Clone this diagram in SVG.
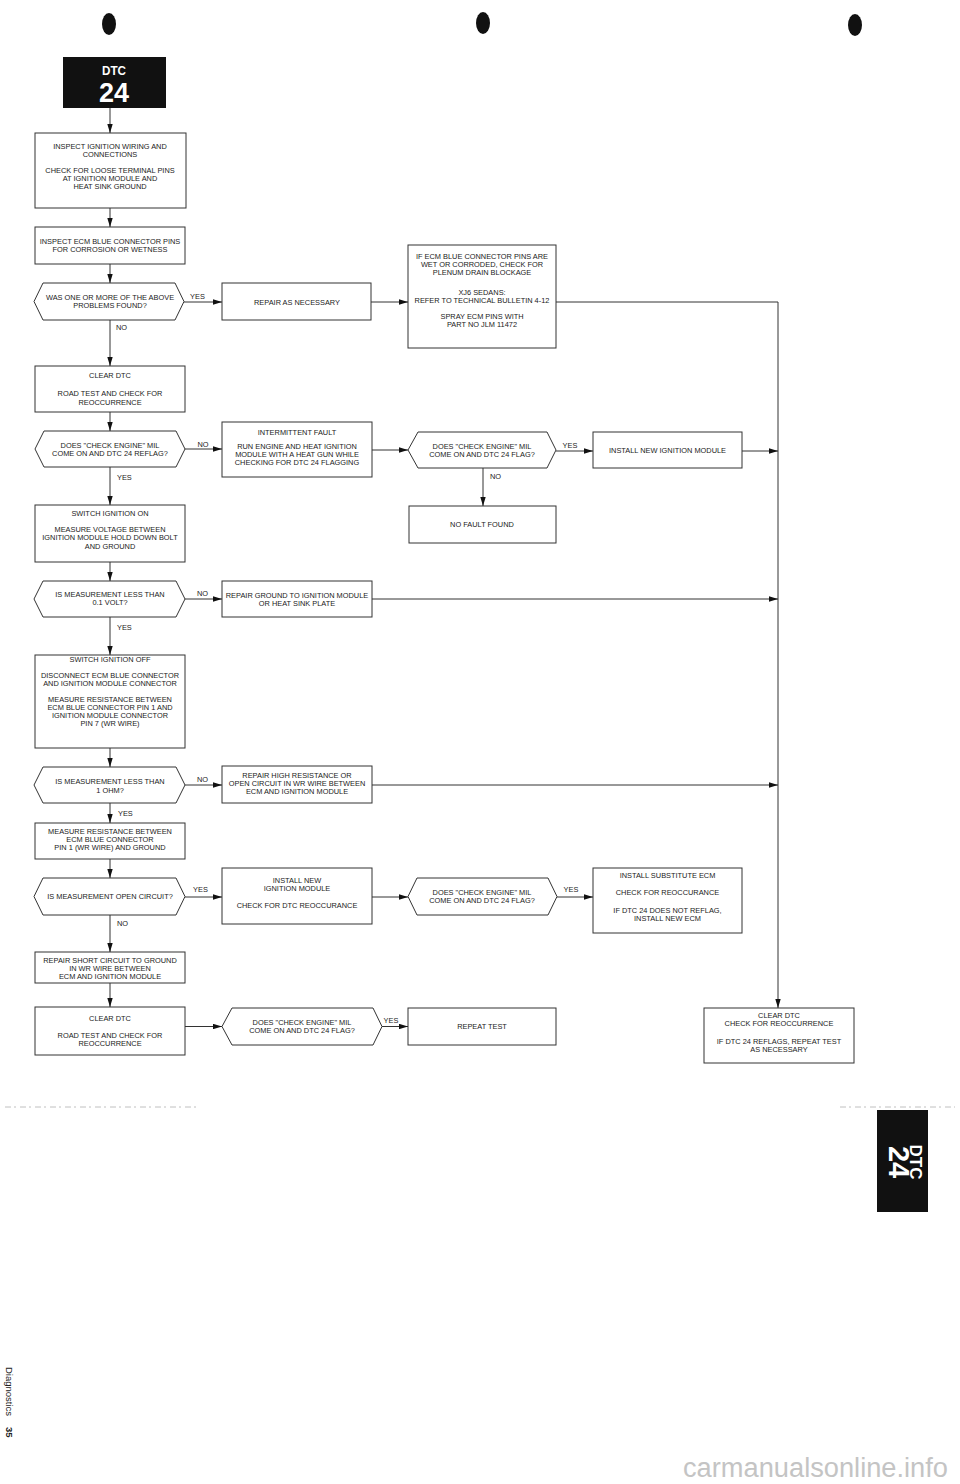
<svg xmlns="http://www.w3.org/2000/svg" width="960" height="1484" viewBox="0 0 960 1484">
<style>
.box{fill:#fff;stroke:#333;stroke-width:1}
.t{font-family:"Liberation Sans",Arial,sans-serif;font-size:7.4px;fill:#1a1a1a;text-anchor:middle}
.lbl{font-family:"Liberation Sans",Arial,sans-serif;font-size:7.4px;fill:#1a1a1a;text-anchor:middle}
.lv{font-family:"Liberation Sans",Arial,sans-serif;font-size:7.4px;fill:#1a1a1a;text-anchor:start}
.c{fill:none;stroke:#333;stroke-width:1}
.a{marker-end:url(#arr)}
</style>
<defs>
<marker id="arr" viewBox="0 0 10 6" refX="10" refY="3" markerWidth="9" markerHeight="5.4" markerUnits="userSpaceOnUse" orient="auto">
<path d="M0,0 L10,3 L0,6 Z" fill="#111"/>
</marker>
</defs>
<rect width="960" height="1484" fill="#fff"/>

<!-- punch holes -->
<g id="holes" fill="#111">
<ellipse cx="109" cy="24" rx="7" ry="11"/>
<ellipse cx="483" cy="23" rx="7" ry="11"/>
<ellipse cx="855" cy="25" rx="7" ry="11"/>
</g>

<!-- header tab -->
<g id="dtc-header">
<rect x="63" y="57" width="103" height="51" fill="#111"/>
<text x="114" y="74.5" font-family="Liberation Sans,Arial,sans-serif" font-weight="bold" font-size="13" fill="#fff" text-anchor="middle" textLength="24" lengthAdjust="spacingAndGlyphs">DTC</text>
<text x="114" y="102" font-family="Liberation Sans,Arial,sans-serif" font-weight="bold" font-size="27" fill="#fff" text-anchor="middle">24</text>
</g>

<g id="n1"><rect class="box" x="35" y="133" width="151" height="75"/>
<text class="t" x="110" y="148.7">INSPECT IGNITION WIRING AND</text>
<text class="t" x="110" y="156.7">CONNECTIONS</text>
<text class="t" x="110" y="172.7">CHECK FOR LOOSE TERMINAL PINS</text>
<text class="t" x="110" y="180.7">AT IGNITION MODULE AND</text>
<text class="t" x="110" y="189.2">HEAT SINK GROUND</text></g>

<g id="n2"><rect class="box" x="35" y="227" width="150" height="37"/>
<text class="t" x="110" y="244.2">INSPECT ECM BLUE CONNECTOR PINS</text>
<text class="t" x="110" y="252.2">FOR CORROSION OR WETNESS</text></g>

<g id="d1"><path class="box" d="M34,301.5 L43,283 L175,283 L184,301.5 L175,320 L43,320 Z"/>
<text class="t" x="110" y="299.7">WAS ONE OR MORE OF THE ABOVE</text>
<text class="t" x="110" y="307.7">PROBLEMS FOUND?</text></g>

<g id="n3"><rect class="box" x="222" y="283" width="149" height="37"/>
<text class="t" x="297" y="304.7">REPAIR AS NECESSARY</text></g>

<g id="n4"><rect class="box" x="408" y="245" width="148" height="103"/>
<text class="t" x="482" y="258.7">IF ECM BLUE CONNECTOR PINS ARE</text>
<text class="t" x="482" y="266.7">WET OR CORRODED, CHECK FOR</text>
<text class="t" x="482" y="274.7">PLENUM DRAIN BLOCKAGE</text>
<text class="t" x="482" y="294.7">XJ6 SEDANS:</text>
<text class="t" x="482" y="302.7">REFER TO TECHNICAL BULLETIN 4-12</text>
<text class="t" x="482" y="318.7">SPRAY ECM PINS WITH</text>
<text class="t" x="482" y="326.7">PART NO JLM 11472</text></g>

<g id="n5"><rect class="box" x="35" y="366" width="150" height="46"/>
<text class="t" x="110" y="377.7">CLEAR DTC</text>
<text class="t" x="110" y="395.7">ROAD TEST AND CHECK FOR</text>
<text class="t" x="110" y="404.7">REOCCURRENCE</text></g>

<g id="d2"><path class="box" d="M35,449 L44,431 L176,431 L185,449 L176,467 L44,467 Z"/>
<text class="t" x="110" y="447.7">DOES "CHECK ENGINE" MIL</text>
<text class="t" x="110" y="455.7">COME ON AND DTC 24 REFLAG?</text></g>

<g id="n6"><rect class="box" x="222" y="422" width="150" height="55"/>
<text class="t" x="297" y="434.7">INTERMITTENT FAULT</text>
<text class="t" x="297" y="448.7">RUN ENGINE AND HEAT IGNITION</text>
<text class="t" x="297" y="456.7">MODULE WITH A HEAT GUN WHILE</text>
<text class="t" x="297" y="465.2">CHECKING FOR DTC 24 FLAGGING</text></g>

<g id="d3"><path class="box" d="M408,450 L418,432 L547,432 L556,450 L547,468 L418,468 Z"/>
<text class="t" x="482" y="449.2">DOES "CHECK ENGINE" MIL</text>
<text class="t" x="482" y="456.7">COME ON AND DTC 24 FLAG?</text></g>

<g id="n7"><rect class="box" x="593" y="432" width="149" height="36"/>
<text class="t" x="667.5" y="453.2">INSTALL NEW IGNITION MODULE</text></g>

<g id="n8"><rect class="box" x="409" y="506" width="147" height="37"/>
<text class="t" x="482" y="527.2">NO FAULT FOUND</text></g>

<g id="n9"><rect class="box" x="35" y="505" width="150" height="57"/>
<text class="t" x="110" y="515.7">SWITCH IGNITION ON</text>
<text class="t" x="110" y="531.7">MEASURE VOLTAGE BETWEEN</text>
<text class="t" x="110" y="540.2">IGNITION MODULE HOLD DOWN BOLT</text>
<text class="t" x="110" y="548.7">AND GROUND</text></g>

<g id="d4"><path class="box" d="M34,599 L43,581 L176,581 L185,599 L176,617 L43,617 Z"/>
<text class="t" x="110" y="596.7">IS MEASUREMENT LESS THAN</text>
<text class="t" x="110" y="605.2">0.1 VOLT?</text></g>

<g id="n10"><rect class="box" x="222" y="581" width="150" height="36"/>
<text class="t" x="297" y="597.7">REPAIR GROUND TO IGNITION MODULE</text>
<text class="t" x="297" y="605.7">OR HEAT SINK PLATE</text></g>

<g id="n11"><rect class="box" x="35" y="655" width="150" height="93"/>
<text class="t" x="110" y="661.7">SWITCH IGNITION OFF</text>
<text class="t" x="110" y="677.7">DISCONNECT ECM BLUE CONNECTOR</text>
<text class="t" x="110" y="685.7">AND IGNITION MODULE CONNECTOR</text>
<text class="t" x="110" y="701.7">MEASURE RESISTANCE BETWEEN</text>
<text class="t" x="110" y="709.7">ECM BLUE CONNECTOR PIN 1 AND</text>
<text class="t" x="110" y="717.7">IGNITION MODULE CONNECTOR</text>
<text class="t" x="110" y="725.7">PIN 7 (WR WIRE)</text></g>

<g id="d5"><path class="box" d="M34,785 L43,767 L176,767 L185,785 L176,803 L43,803 Z"/>
<text class="t" x="110" y="784.2">IS MEASUREMENT LESS THAN</text>
<text class="t" x="110" y="792.7">1 OHM?</text></g>

<g id="n12"><rect class="box" x="222" y="766" width="150" height="37"/>
<text class="t" x="297" y="777.7">REPAIR HIGH RESISTANCE OR</text>
<text class="t" x="297" y="785.7">OPEN CIRCUIT IN WR WIRE BETWEEN</text>
<text class="t" x="297" y="793.7">ECM AND IGNITION MODULE</text></g>

<g id="n13"><rect class="box" x="35" y="823" width="150" height="36"/>
<text class="t" x="110" y="833.7">MEASURE RESISTANCE BETWEEN</text>
<text class="t" x="110" y="841.7">ECM BLUE CONNECTOR</text>
<text class="t" x="110" y="849.7">PIN 1 (WR WIRE) AND GROUND</text></g>

<g id="d6"><path class="box" d="M34,896.5 L43,878 L176,878 L185,896.5 L176,915 L43,915 Z"/>
<text class="t" x="110" y="899.2">IS MEASUREMENT OPEN CIRCUIT?</text></g>

<g id="n14"><rect class="box" x="222" y="868" width="150" height="56"/>
<text class="t" x="297" y="882.7">INSTALL NEW</text>
<text class="t" x="297" y="891.2">IGNITION MODULE</text>
<text class="t" x="297" y="907.7">CHECK FOR DTC REOCCURANCE</text></g>

<g id="d7"><path class="box" d="M408,896.5 L417,878 L548,878 L557,896.5 L548,915 L417,915 Z"/>
<text class="t" x="482" y="894.7">DOES "CHECK ENGINE" MIL</text>
<text class="t" x="482" y="902.7">COME ON AND DTC 24 FLAG?</text></g>

<g id="n15"><rect class="box" x="593" y="868" width="149" height="65"/>
<text class="t" x="667.5" y="877.7">INSTALL SUBSTITUTE ECM</text>
<text class="t" x="667.5" y="894.7">CHECK FOR REOCCURANCE</text>
<text class="t" x="667.5" y="912.7">IF DTC 24 DOES NOT REFLAG,</text>
<text class="t" x="667.5" y="920.7">INSTALL NEW ECM</text></g>

<g id="n16"><rect class="box" x="35" y="952" width="150" height="31"/>
<text class="t" x="110" y="962.7">REPAIR SHORT CIRCUIT TO GROUND</text>
<text class="t" x="110" y="970.7">IN WR WIRE BETWEEN</text>
<text class="t" x="110" y="978.7">ECM AND IGNITION MODULE</text></g>

<g id="n17"><rect class="box" x="35" y="1007" width="150" height="48"/>
<text class="t" x="110" y="1020.7">CLEAR DTC</text>
<text class="t" x="110" y="1037.7">ROAD TEST AND CHECK FOR</text>
<text class="t" x="110" y="1045.7">REOCCURRENCE</text></g>

<g id="d8"><path class="box" d="M222,1026.5 L232,1008 L373,1008 L382,1026.5 L373,1045 L232,1045 Z"/>
<text class="t" x="302" y="1024.7">DOES "CHECK ENGINE" MIL</text>
<text class="t" x="302" y="1033.2">COME ON AND DTC 24 FLAG?</text></g>

<g id="n18"><rect class="box" x="408" y="1008" width="148" height="37"/>
<text class="t" x="482" y="1028.7">REPEAT TEST</text></g>

<g id="n19"><rect class="box" x="704" y="1008" width="150" height="55"/>
<text class="t" x="779" y="1017.7">CLEAR DTC</text>
<text class="t" x="779" y="1025.7">CHECK FOR REOCCURRENCE</text>
<text class="t" x="779" y="1043.7">IF DTC 24 REFLAGS, REPEAT TEST</text>
<text class="t" x="779" y="1051.7">AS NECESSARY</text></g>

<!-- connectors -->
<g id="connectors">
<line class="c a" x1="110" y1="108" x2="110" y2="133"/>
<line class="c a" x1="110" y1="208" x2="110" y2="227"/>
<line class="c a" x1="110" y1="264" x2="110" y2="283"/>
<line class="c a" x1="184" y1="302" x2="222" y2="302"/>
<line class="c a" x1="371" y1="302" x2="408" y2="302"/>
<polyline class="c a" points="556,302 778,302 778,1008"/>
<line class="c a" x1="110" y1="320" x2="110" y2="366"/>
<line class="c a" x1="110" y1="412" x2="110" y2="431"/>
<line class="c a" x1="185" y1="449" x2="222" y2="449"/>
<line class="c a" x1="372" y1="450" x2="408" y2="450"/>
<line class="c a" x1="556" y1="451" x2="593" y2="451"/>
<line class="c a" x1="742" y1="451" x2="778" y2="451"/>
<line class="c a" x1="483" y1="468" x2="483" y2="506"/>
<line class="c a" x1="110" y1="467" x2="110" y2="505"/>
<line class="c a" x1="110" y1="562" x2="110" y2="581"/>
<line class="c a" x1="185" y1="599" x2="222" y2="599"/>
<line class="c a" x1="372" y1="599" x2="778" y2="599"/>
<line class="c a" x1="110" y1="617" x2="110" y2="655"/>
<line class="c a" x1="110" y1="748" x2="110" y2="767"/>
<line class="c a" x1="185" y1="785" x2="222" y2="785"/>
<line class="c a" x1="372" y1="785" x2="778" y2="785"/>
<line class="c a" x1="110" y1="803" x2="110" y2="823"/>
<line class="c a" x1="110" y1="859" x2="110" y2="878"/>
<line class="c a" x1="185" y1="897" x2="222" y2="897"/>
<line class="c a" x1="372" y1="897" x2="408" y2="897"/>
<line class="c a" x1="557" y1="897" x2="593" y2="897"/>
<line class="c a" x1="110" y1="915" x2="110" y2="952"/>
<line class="c a" x1="110" y1="983" x2="110" y2="1007"/>
<line class="c a" x1="185" y1="1026.5" x2="222" y2="1026.5"/>
<line class="c a" x1="382" y1="1026.5" x2="408" y2="1026.5"/>
<text class="lbl" x="197.5" y="298.5">YES</text>
<text class="lv" x="116" y="329.7">NO</text>
<text class="lbl" x="203" y="446.5">NO</text>
<text class="lv" x="117" y="479.7">YES</text>
<text class="lbl" x="570" y="447.5">YES</text>
<text class="lv" x="490" y="478.7">NO</text>
<text class="lbl" x="202.5" y="596">NO</text>
<text class="lv" x="117" y="629.7">YES</text>
<text class="lbl" x="202.5" y="782">NO</text>
<text class="lv" x="118" y="815.7">YES</text>
<text class="lbl" x="200.5" y="891.7">YES</text>
<text class="lv" x="117" y="925.7">NO</text>
<text class="lbl" x="571" y="891.7">YES</text>
<text class="lbl" x="391" y="1023">YES</text>
</g>

<!-- side tab -->
<g id="dtc-tab">
<rect x="877" y="1110" width="51" height="102" fill="#111"/>
<text transform="translate(910,1162) rotate(90)" font-family="Liberation Sans,Arial,sans-serif" font-weight="bold" font-size="17" fill="#fff" text-anchor="middle">DTC</text>
<text transform="translate(889,1162) rotate(90)" font-family="Liberation Sans,Arial,sans-serif" font-weight="bold" font-size="29" fill="#fff" text-anchor="middle">24</text>
</g>

<!-- scan artefact lines -->
<g id="scan" stroke="#b0b0b0" stroke-width="0.8" stroke-dasharray="6 3 2 4" fill="none">
<line x1="5" y1="1107" x2="200" y2="1107"/>
<line x1="840" y1="1107" x2="955" y2="1107"/>
</g>

<g id="footer">
<text transform="translate(6,1367) rotate(90)" font-family="Liberation Sans,Arial,sans-serif" font-size="9.5" fill="#222">Diagnostics</text>
<text transform="translate(6,1427) rotate(90)" font-family="Liberation Sans,Arial,sans-serif" font-weight="bold" font-size="9.5" fill="#222">35</text>
<text x="683" y="1477" font-family="Liberation Sans,Arial,sans-serif" font-size="27" fill="#c4c4c4" textLength="265" lengthAdjust="spacingAndGlyphs">carmanualsonline.info</text>
</g>
</svg>
